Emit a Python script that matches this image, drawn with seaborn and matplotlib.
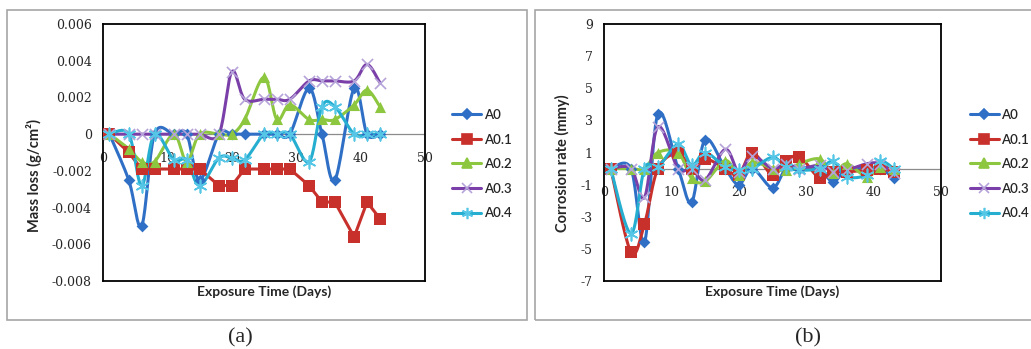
import numpy as np
import pandas as pd
import matplotlib
matplotlib.use("Agg")
import matplotlib.pyplot as plt
import seaborn as sns
from matplotlib.lines import Line2D
from matplotlib.patches import Rectangle

# ---------------- data ----------------
days = [1, 4, 6, 8, 11, 13, 15, 18, 20, 22, 25, 27, 29, 32, 34, 36, 39, 41, 43]
series_names = ["A0", "A0.1", "A0.2", "A0.3", "A0.4"]

mass_A0 = [0, -0.0025, -0.005, 0, 0, 0, -0.0025, 0, 0, 0, 0, 0, 0, 0.0025, 0, -0.0025, 0.0025, 0, 0]
mass_A01 = [0, -0.001, -0.0019, -0.0019, -0.0019, -0.0019, -0.0019, -0.0028, -0.0028, -0.0019,
            -0.0019, -0.0019, -0.0019, -0.0028, -0.0037, -0.0037, -0.0056, -0.0037, -0.0046]
mass_A02 = [0, -0.0008, -0.0015, -0.0015, 0, -0.0015, 0, 0, 0, 0.0008, 0.0031, 0.0008, 0.0016,
            0.0008, 0.0008, 0.0008, 0.0016, 0.0024, 0.0015]
mass_A03 = [0, 0, 0, 0, 0, 0, 0, 0, 0.0034, 0.0019, 0.0019, 0.0019, 0.0019, 0.0029, 0.0029,
            0.0029, 0.0029, 0.0038, 0.0028]
mass_A04 = [0, 0, -0.0028, 0, -0.0014, -0.0014, -0.0028, -0.0013, -0.0013, -0.0014, 0, 0, 0,
            -0.0015, 0.0015, 0.0015, 0, 0, 0]

rate_A0 = [0, 0, -4.6, 3.4, 0, -2.1, 1.8, 0, -1.0, 0, -1.2, 0, 0, 0, -0.85, 0, 0, 0, -0.6]
rate_A01 = [0, -5.2, -3.45, 0, 0.95, 0, 0.6, 0, -0.4, 1.0, -0.4, 0.45, 0.75, -0.6, -0.2, -0.2, -0.1, 0, -0.2]
rate_A02 = [0, 0, 0, 1.0, 1.0, -0.6, -0.8, 0.5, -0.4, 0.4, 0, -0.1, 0.3, 0.6, -0.3, 0.3, -0.5, 0.1, 0]
rate_A03 = [0, 0, -1.8, 2.6, 0, 0, -0.7, 1.2, -0.2, 0.8, 0, 0.3, 0, 0.2, -0.2, -0.1, 0.3, 0.3, -0.3]
rate_A04 = [0, -4.05, 0, 0.1, 1.5, 0.2, 1.0, 0.1, -0.1, 0, 0.7, 0.1, -0.1, 0, 0.45, -0.5, -0.4, 0.45, 0]

mass_ticks = [-0.008, -0.006, -0.004, -0.002, 0, 0.002, 0.004, 0.006]
mass_tick_labels = ["-0.008", "-0.006", "-0.004", "-0.002", "0", "0.002", "0.004", "0.006"]
rate_ticks = [-7, -5, -3, -1, 1, 3, 5, 7, 9]
x_ticks = [0, 10, 20, 30, 40, 50]

# ---------------- style ----------------
colors = ["#2F70C6", "#C8302C", "#8DC63F", "#7A3FA8", "#25AED0"]
mcolors = ["#2F70C6", "#C8302C", "#8DC63F", "#B4A2D8", "#55C6E6"]
markers = ["D", "s", "^", "x", (6, 2, 0)]
msizes = [6, 8, 8, 8, 9]

sns.set_theme(style="white")
plt.rcParams["font.family"] = ["Lato", "DejaVu Sans"]
TICK_FONT = "DejaVu Serif"


def smooth(x, y, n=20):
    """Excel-like smoothed line (Catmull-Rom Bezier) through the points."""
    x = np.asarray(x, float)
    y = np.asarray(y, float)
    px = np.concatenate([[x[0]], x, [x[-1]]])
    py = np.concatenate([[y[0]], y, [y[-1]]])
    xs, ys = [], []
    t = np.linspace(0, 1, n)
    for i in range(1, len(px) - 2):
        p0 = np.array([px[i], py[i]])
        p3 = np.array([px[i + 1], py[i + 1]])
        c1 = p0 + (p3 - np.array([px[i - 1], py[i - 1]])) / 6.0
        c2 = p3 - (np.array([px[i + 2], py[i + 2]]) - p0) / 6.0
        b = ((1 - t) ** 3)[:, None] * p0 + (3 * (1 - t) ** 2 * t)[:, None] * c1 + \
            (3 * (1 - t) * t ** 2)[:, None] * c2 + (t ** 3)[:, None] * p3
        xs.append(b[:, 0])
        ys.append(b[:, 1])
    return np.concatenate(xs), np.concatenate(ys)


fig = plt.figure(figsize=(10.31, 3.49), dpi=100)
W, H = 1031, 349


def fx(px):
    return px / W


def fy(py):
    return 1 - py / H


# panel frames
fig.add_artist(Rectangle((fx(7), fy(320)), fx(527) - fx(7), fy(10) - fy(320),
                         transform=fig.transFigure, fill=False, ec="#A6A6A6", lw=1.2))
fig.add_artist(Rectangle((fx(535), fy(320)), fx(1035) - fx(535), fy(10) - fy(320),
                         transform=fig.transFigure, fill=False, ec="#A6A6A6", lw=1.2))

axL = fig.add_axes([fx(103), fy(281), fx(425) - fx(103), fy(24) - fy(281)])
axR = fig.add_axes([fx(604), fy(281), fx(941) - fx(604), fy(24) - fy(281)])


def draw(ax, ys, smooth_flags):
    for name, y, c, mc, m, ms, sm in zip(series_names, ys, colors, mcolors, markers, msizes, smooth_flags):
        if sm:
            cx, cy = smooth(days, y)
        else:
            cx, cy = np.asarray(days, float), np.asarray(y, float)
        curve = pd.DataFrame({"x": cx, "y": cy})
        sns.lineplot(data=curve, x="x", y="y", ax=ax, color=c, lw=2.2, sort=False,
                     estimator=None, legend=False, zorder=3)
        pts = pd.DataFrame({"x": days, "y": y})
        if m in ("x",) or isinstance(m, tuple):
            sns.scatterplot(data=pts, x="x", y="y", ax=ax, marker=m, s=ms ** 2, color=mc,
                            linewidth=1.2, legend=False, zorder=4)
        else:
            sns.scatterplot(data=pts, x="x", y="y", ax=ax, marker=m, s=ms ** 2, color=mc,
                            edgecolor=mc, linewidth=0, legend=False, zorder=4)


draw(axL, [mass_A0, mass_A01, mass_A02, mass_A03, mass_A04], [True, False, True, True, True])
draw(axR, [rate_A0, rate_A01, rate_A02, rate_A03, rate_A04], [True, True, True, True, True])


def style(ax, ylim, yticks, ylabels, zero_frac, ylabel, ylab_x, ylab_y):
    ax.set_xlim(0, 50)
    ax.set_ylim(*ylim)
    ax.axhline(0, color="#8C8C8C", lw=0.9, zorder=2)
    for s in ax.spines.values():
        s.set_visible(True)
        s.set_color("black")
        s.set_linewidth(1.3)
    ax.set_yticks(yticks)
    ax.set_yticklabels(ylabels, fontfamily=TICK_FONT, fontsize=9)
    ax.tick_params(axis="y", length=0, pad=8)
    ax.set_xticks([])
    ax.set_xlabel("Exposure Time (Days)", fontsize=10, fontweight="bold", labelpad=0)
    ax.xaxis.set_label_coords(0.5, -0.018)
    ax.set_ylabel(ylabel, fontsize=10.5, fontweight="bold")
    ax.yaxis.set_label_coords(ylab_x, ylab_y)
    sec = ax.secondary_xaxis(zero_frac)
    sec.xaxis.set_ticks_position("bottom")
    sec.xaxis.set_label_position("bottom")
    sec.set_xticks(x_ticks)
    sec.set_xticklabels([str(t) for t in x_ticks], fontfamily=TICK_FONT, fontsize=9)
    sec.tick_params(axis="x", length=0, pad=12.5, labelbottom=True, labeltop=False)
    for s in sec.spines.values():
        s.set_visible(False)
    handles = [Line2D([0], [0], color=c, lw=2.2, marker=m, markersize=ms * 0.9,
                      markerfacecolor=mc, markeredgecolor=mc, markeredgewidth=1.2)
               for c, mc, m, ms in zip(colors, mcolors, markers, msizes)]
    leg = ax.legend(handles, series_names, loc="center left", bbox_to_anchor=(1.085, 0.455),
                    frameon=False, fontsize=9.5, handlelength=2.2, handletextpad=0.2,
                    labelspacing=0.95, borderaxespad=0, borderpad=0)
    for t in leg.get_texts():
        t.set_fontweight("semibold")


style(axL, (-0.008, 0.006), mass_ticks, mass_tick_labels, 0.008 / 0.014,
      "Mass loss (g/cm\u00b2)", -0.19, 0.41)
style(axR, (-7, 9), rate_ticks, [str(t) for t in rate_ticks], 7 / 16,
      "Corrosion rate (mmy)", -0.10, 0.46)

fig.text(fx(240), fy(338), "(a)", ha="center", va="center", fontfamily="Liberation Serif", fontsize=16)
fig.text(fx(808), fy(338), "(b)", ha="center", va="center", fontfamily="Liberation Serif", fontsize=16)

fig.savefig("out.png", dpi=100)
